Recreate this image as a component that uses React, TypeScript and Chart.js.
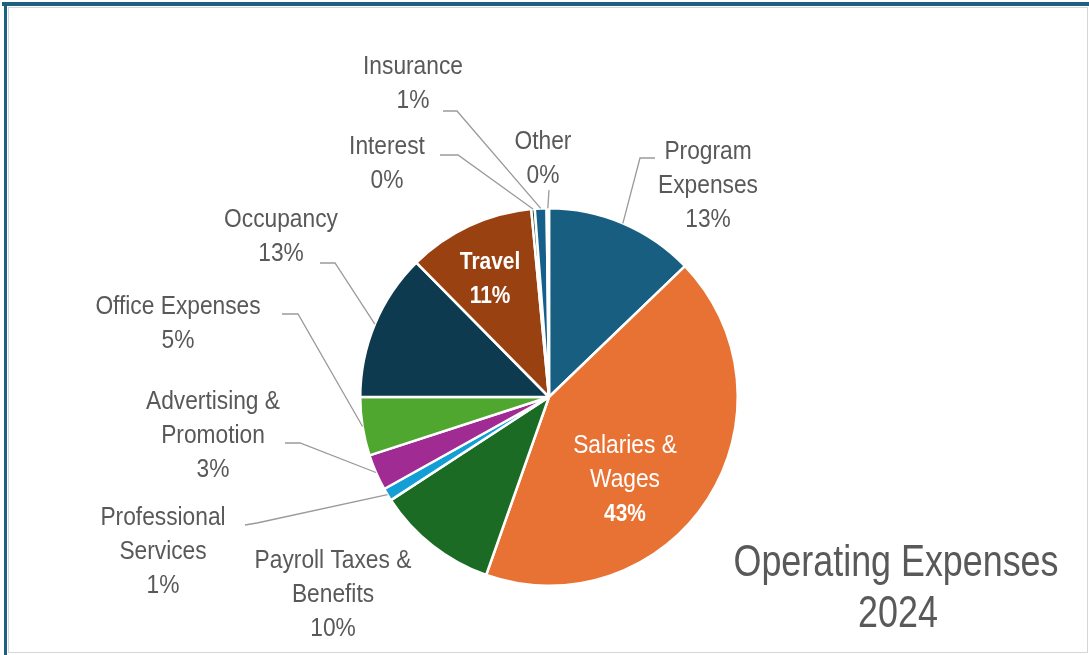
import React, { useEffect, useRef } from "react";
import { Chart, registerables } from "chart.js";

Chart.register(...registerables);

const categories = [
  "Program Expenses",
  "Salaries & Wages",
  "Payroll Taxes & Benefits",
  "Professional Services",
  "Advertising & Promotion",
  "Office Expenses",
  "Occupancy",
  "Travel",
  "Interest",
  "Insurance",
  "Other",
];

const values = [12.8, 42.6, 10.4, 1.1, 3.1, 5.0, 12.6, 10.9, 0.3, 1.0, 0.2];

const colors = [
  "#175e81",
  "#e87233",
  "#1b6b25",
  "#139fd6",
  "#a02b93",
  "#50a72f",
  "#0e3a50",
  "#9a4111",
  "#124a1a",
  "#15608a",
  "#6a1e62",
];

// label text lines (name lines); percentage appended from values
const labelLines = [
  ["Program", "Expenses"],
  ["Salaries &", "Wages"],
  ["Payroll Taxes &", "Benefits"],
  ["Professional", "Services"],
  ["Advertising &", "Promotion"],
  ["Office Expenses"],
  ["Occupancy"],
  ["Travel"],
  ["Interest"],
  ["Insurance"],
  ["Other"],
];

const titleLines = ["Operating Expenses", "2024"];

// Layout of labels relative to the pie centre (text block centre, leader start & elbow)
type LabelLayout = {
  dx: number;
  dy: number;
  inside?: boolean;
  leader?: [number, number, number, number];
};
const labelLayout: LabelLayout[] = [
  { dx: 159, dy: -211, leader: [106, -239, 91, -239] },
  { dx: 76, dy: 83, inside: true },
  { dx: -216, dy: 198 },
  { dx: -386, dy: 155, leader: [-304, 128, -292, 126] },
  { dx: -336, dy: 39, leader: [-264, 46, -249, 46] },
  { dx: -371, dy: -73, leader: [-267, -83, -251, -83] },
  { dx: -268, dy: -160, leader: [-229, -134, -214, -134] },
  { dx: -59, dy: -118, inside: true },
  { dx: -162, dy: -233, leader: [-109, -242, -91, -242] },
  { dx: -136, dy: -312.5, leader: [-106, -286, -92, -286] },
  { dx: -6, dy: -238, leader: [0, -207, 0, -207] },
];

const FONT = "'Liberation Sans', Arial, sans-serif";
const TEXT_COLOR = "#595959";

function drawScaled(ctx: CanvasRenderingContext2D, text: string, x: number, y: number, sx: number) {
  ctx.save();
  ctx.translate(x, y);
  ctx.scale(sx, 1);
  ctx.fillText(text, 0, 0);
  ctx.restore();
}

const labelPlugin = {
  id: "customLabels",
  afterDraw(chart: any) {
    const ctx = chart.ctx as CanvasRenderingContext2D;
    const meta = chart.getDatasetMeta(0);
    const total = values.reduce((a, b) => a + b, 0);
    ctx.save();
    meta.data.forEach((arc: any, i: number) => {
      const lay = labelLayout[i];
      const cx = arc.x;
      const cy = arc.y;
      const pct = Math.round((values[i] / total) * 100) + "%";
      const lines = [...labelLines[i], pct];
      const lh = 34;
      const tx = cx + lay.dx;
      const ty = cy + lay.dy;
      if (lay.leader) {
        const mid = (arc.startAngle + arc.endAngle) / 2;
        const r = arc.outerRadius;
        const ax = cx + Math.cos(mid) * r;
        const ay = cy + Math.sin(mid) * r;
        ctx.beginPath();
        ctx.strokeStyle = "#9a9a9a";
        ctx.lineWidth = 1.3;
        ctx.moveTo(cx + lay.leader[0], cy + lay.leader[1]);
        ctx.lineTo(cx + lay.leader[2], cy + lay.leader[3]);
        ctx.lineTo(ax, ay);
        ctx.stroke();
      }
      ctx.textAlign = "center";
      ctx.textBaseline = "middle";
      lines.forEach((ln, k) => {
        const y = ty + (k - (lines.length - 1) / 2) * lh;
        const bold = lay.inside && (i === 7 || k === lines.length - 1);
        ctx.font = bold ? `bold 24px ${FONT}` : `normal 25px ${FONT}`;
        ctx.fillStyle = lay.inside ? "#ffffff" : TEXT_COLOR;
        drawScaled(ctx, ln, tx, y, bold ? 0.87 : 0.91);
      });
    });
    ctx.font = `normal 44px ${FONT}`;
    ctx.fillStyle = TEXT_COLOR;
    ctx.textAlign = "center";
    ctx.textBaseline = "alphabetic";
    drawScaled(ctx, titleLines[0], 896, 576, 0.815);
    drawScaled(ctx, titleLines[1], 898, 627, 0.815);
    ctx.restore();
  },
};

export default function App() {
  const ref = useRef<HTMLCanvasElement | null>(null);
  useEffect(() => {
    if (!ref.current) return;
    const chart = new Chart(ref.current, {
      type: "pie",
      data: {
        labels: categories,
        datasets: [
          {
            data: values,
            backgroundColor: colors,
            borderColor: "#ffffff",
            borderWidth: 2.5,
          },
        ],
      },
      options: {
        responsive: false,
        animation: false,
        rotation: 0,
        layout: { padding: { top: 207, bottom: 68, left: 359, right: 350 } },
        plugins: {
          legend: { display: false },
          tooltip: { enabled: false },
          title: { display: false },
        },
      },
      plugins: [labelPlugin],
    });
    return () => chart.destroy();
  }, []);

  return (
    <div style={{ position: "absolute", left: 0, top: 0, width: 1089, height: 655, background: "#ffffff", overflow: "hidden" }}>
      <canvas ref={ref} width={1089} height={655} style={{ position: "absolute", left: 0, top: 0, width: 1089, height: 655 }} />
      <div style={{ position: "absolute", left: 2, top: 2, width: 1087, height: 4, background: "#1f5f82" }} />
      <div style={{ position: "absolute", left: 4, top: 2, width: 3, height: 653, background: "#1f5f82" }} />
      <div style={{ position: "absolute", left: 8, top: 7, width: 1078, height: 644, border: "1px solid #d6d6d6", pointerEvents: "none" }} />
    </div>
  );
}
